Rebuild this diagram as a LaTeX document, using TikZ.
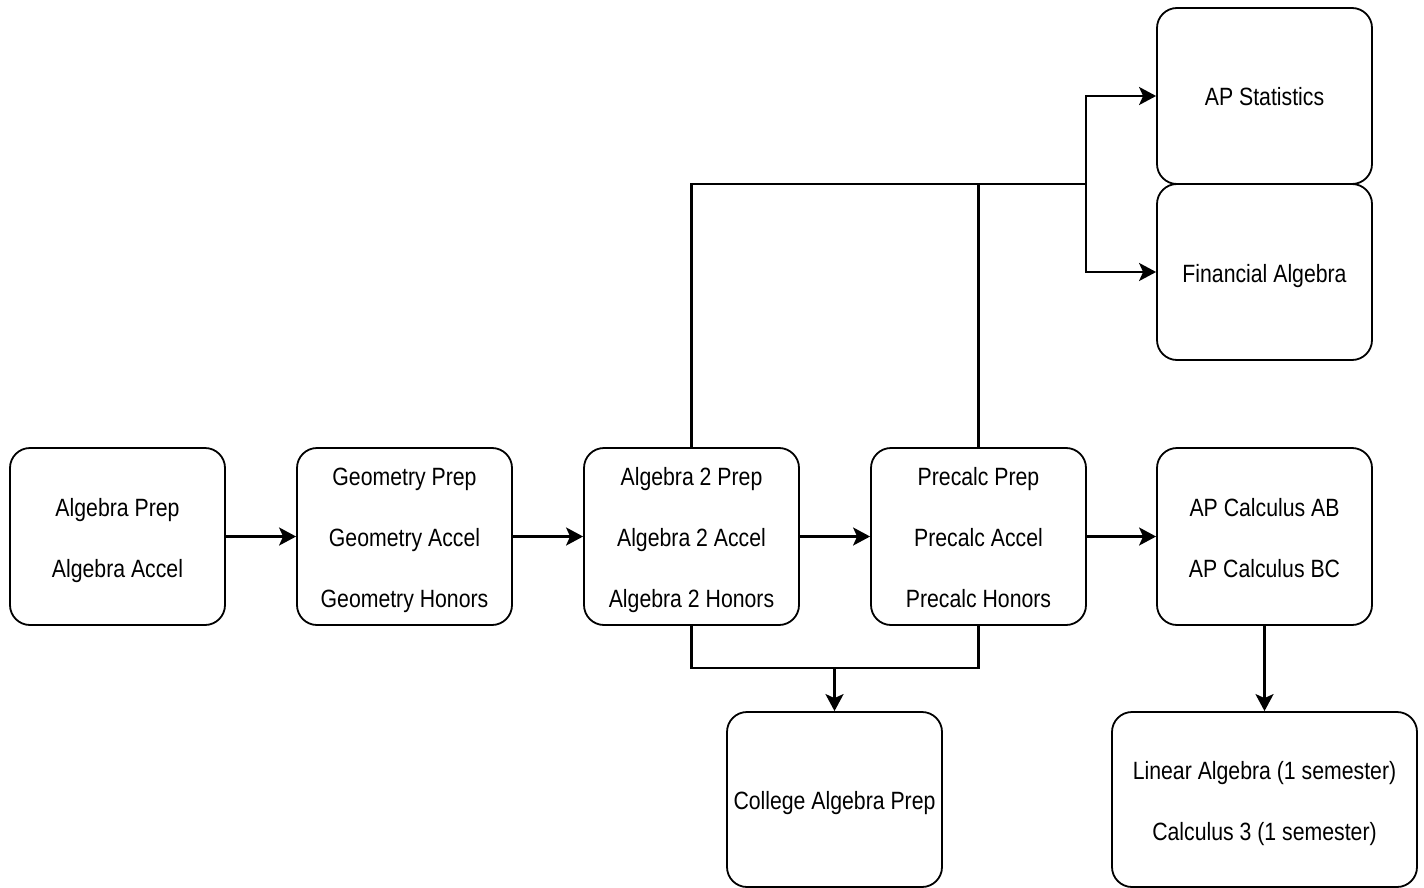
\documentclass[tikz,border=0pt]{standalone}
\usepackage{fontspec}
\setmainfont{Liberation Sans}[FakeStretch=0.85]
\usetikzlibrary{arrows.meta}
\newcommand{\boxfont}{\fontsize{25}{61}\selectfont}
\newcommand{\ls}{\rule[-6pt]{0pt}{32pt}}
\begin{document}
\begin{tikzpicture}[x=1pt,y=-1pt,
  box/.style={draw, line width=1.8pt, rounded corners=20pt, minimum width=215pt, minimum height=177pt, align=center, font=\boxfont, inner sep=0pt},
  link/.style={line width=2.4pt},
  conn/.style={line width=2.4pt, -{Stealth[length=17pt,width=18pt,inset=4pt]}}]
\useasboundingbox (0,0) rectangle (1424,888);
\node[box] (alg) at (117.5,536.5) {\ls Algebra Prep\\\ls Algebra Accel};
\node[box] (geo) at (404.5,536.5) {\ls Geometry Prep\\\ls Geometry Accel\\\ls Geometry Honors};
\node[box] (alg2) at (691.5,536.5) {\ls Algebra 2 Prep\\\ls Algebra 2 Accel\\\ls Algebra 2 Honors};
\node[box] (pre) at (978.5,536.5) {\ls Precalc Prep\\\ls Precalc Accel\\\ls Precalc Honors};
\node[box] (calc) at (1264.5,536.5) {\ls AP Calculus AB\\\ls AP Calculus BC};
\node[box, minimum height=176pt] (stat) at (1264.5,96) {\ls AP Statistics};
\node[box, minimum height=176pt] (fin) at (1264.5,272) {\ls Financial Algebra};
\node[box, minimum height=175pt] (coll) at (834.5,799.5) {\ls College Algebra Prep};
\node[box, minimum width=305pt, minimum height=175pt] (lin) at (1264.5,799.5) {\ls Linear Algebra (1 semester)\\\ls Calculus 3 (1 semester)};
\coordinate (j) at (1086,184);
\coordinate (k) at (834.5,668);
\draw[conn] (alg.east) -- (geo.west);
\draw[conn] (geo.east) -- (alg2.west);
\draw[conn] (alg2.east) -- (pre.west);
\draw[conn] (pre.east) -- (calc.west);
\draw[conn] (calc.south) -- (lin.north);
\draw[link] (alg2.north) |- (j);
\draw[link] (pre.north) -- (pre.north |- j);
\draw[conn] (j) |- (stat.west);
\draw[conn] (j) |- (fin.west);
\draw[link] (alg2.south) |- (k) -| (pre.south);
\draw[conn] (k) -- (coll.north);
\end{tikzpicture}
\end{document}
